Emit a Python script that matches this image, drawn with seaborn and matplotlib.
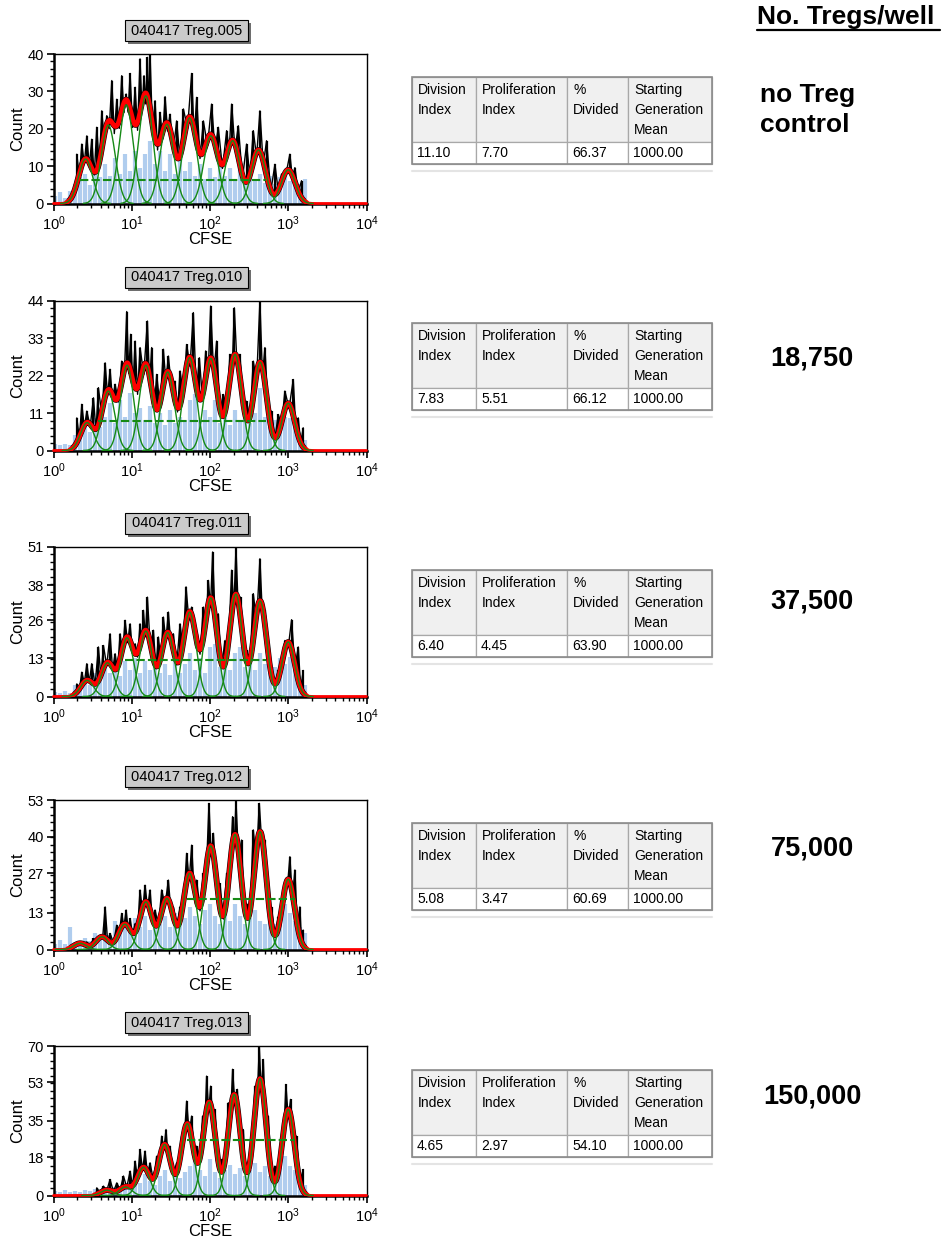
import numpy as np
import matplotlib
matplotlib.use("Agg")
import matplotlib.pyplot as plt
from matplotlib.patches import Rectangle
from matplotlib.lines import Line2D
from matplotlib.ticker import FixedLocator, MultipleLocator, LogLocator, NullFormatter
import seaborn as sns

########################
### chart values  ######
########################
sample_names = ["040417 Treg.005", "040417 Treg.010", "040417 Treg.011",
                "040417 Treg.012", "040417 Treg.013"]
well_labels = ["no Treg\ncontrol", "18,750", "37,500", "75,000", "150,000"]
y_ticks = [[0, 10, 20, 30, 40], [0, 11, 22, 33, 44], [0, 13, 26, 38, 51],
           [0, 13, 27, 40, 53], [0, 18, 35, 53, 70]]

table_header = ["Division\nIndex", "Proliferation\nIndex", "%\nDivided",
                "Starting\nGeneration\nMean"]
division_index = ["11.10", "7.83", "6.40", "5.08", "4.65"]
prolif_index = ["7.70", "5.51", "4.45", "3.47", "2.97"]
pct_divided = ["66.37", "66.12", "63.90", "60.69", "54.10"]
start_mean = ["1000.00", "1000.00", "1000.00", "1000.00", "1000.00"]

# generation peaks of the fitted model: log10(CFSE) and height (counts)
gen_log = [
    [0.41, 0.70, 0.93, 1.18, 1.45, 1.74, 2.01, 2.29, 2.62, 3.00],
    [0.43, 0.70, 0.94, 1.18, 1.46, 1.74, 2.01, 2.32, 2.64, 3.00],
    [0.43, 0.69, 0.94, 1.18, 1.46, 1.74, 2.01, 2.33, 2.64, 3.00],
    [0.34, 0.62, 0.91, 1.18, 1.45, 1.74, 2.01, 2.32, 2.64, 3.00],
    [0.68, 0.92, 1.15, 1.42, 1.71, 1.99, 2.31, 2.64, 3.00],
]
gen_height = [
    [11.9, 21.0, 26.4, 28.8, 21.2, 22.9, 18.1, 16.8, 14.3, 9.0],
    [8.2, 17.5, 25.1, 25.1, 23.1, 27.3, 27.1, 28.3, 26.0, 13.9],
    [5.5, 11.5, 20.0, 22.3, 21.8, 28.8, 33.6, 34.9, 32.6, 18.6],
    [2.2, 4.5, 9.0, 16.9, 18.1, 27.0, 36.7, 40.8, 41.8, 24.9],
    [2.5, 4.0, 13.2, 23.9, 33.6, 43.75, 47.3, 54.7, 40.3],
]
gen_sigma = [0.090, 0.084, 0.082, 0.080, 0.078]

# dashed plateau line: level, start and end (log10 CFSE)
plateau_level = [6.3, 8.8, 12.5, 17.8, 25.9]
plateau_from = [0.34, 0.57, 0.91, 1.70, 1.70]
plateau_to = [2.72, 2.72, 2.72, 3.09, 3.09]

# raw histogram spikes (black): log10(CFSE) and count at spike top
raw_log = [
    [0.298, 0.362, 0.426, 0.489, 0.553, 0.617, 0.681, 0.745, 0.809, 0.872, 0.928, 0.979, 1.043, 1.106,
     1.157, 1.200, 1.234, 1.298, 1.362, 1.426, 1.489, 1.574, 1.660, 1.766, 1.830, 1.915, 2.021, 2.106,
     2.213, 2.277, 2.362, 2.468, 2.553, 2.638, 2.723, 2.830, 2.915, 3.021, 3.085, 3.170],
    [0.298, 0.362, 0.426, 0.511, 0.574, 0.660, 0.723, 0.787, 0.872, 0.936, 0.987, 1.043, 1.106, 1.200,
     1.255, 1.319, 1.404, 1.468, 1.553, 1.617, 1.702, 1.787, 1.864, 1.945, 2.009, 2.085, 2.170, 2.255,
     2.311, 2.383, 2.468, 2.553, 2.638, 2.702, 2.787, 2.872, 2.957, 3.064, 3.128, 3.191],
    [0.298, 0.362, 0.426, 0.489, 0.574, 0.638, 0.723, 0.787, 0.851, 0.915, 0.979, 1.043, 1.106, 1.149,
     1.200, 1.277, 1.340, 1.404, 1.468, 1.532, 1.617, 1.694, 1.766, 1.830, 1.915, 1.979, 2.034, 2.106,
     2.191, 2.277, 2.332, 2.391, 2.468, 2.553, 2.638, 2.702, 2.787, 2.872, 2.957, 3.043, 3.128, 3.191],
    [0.255, 0.319, 0.426, 0.511, 0.596, 0.660, 0.723, 0.809, 0.872, 0.928, 0.979, 1.043, 1.106, 1.170,
     1.234, 1.298, 1.383, 1.468, 1.532, 1.617, 1.702, 1.766, 1.830, 1.915, 1.987, 2.043, 2.128, 2.213,
     2.289, 2.332, 2.404, 2.468, 2.553, 2.630, 2.702, 2.787, 2.872, 2.957, 3.021, 3.085, 3.149, 3.191],
    [0.553, 0.638, 0.723, 0.809, 0.894, 0.979, 1.043, 1.106, 1.170, 1.234, 1.319, 1.383, 1.438, 1.489,
     1.574, 1.638, 1.702, 1.766, 1.830, 1.906, 1.957, 2.009, 2.064, 2.149, 2.234, 2.289, 2.349, 2.426,
     2.489, 2.574, 2.630, 2.681, 2.745, 2.830, 2.915, 2.970, 3.030, 3.106, 3.191],
]
raw_count = [
    [13.2, 15.9, 18.1, 17.2, 20.4, 24.8, 23.5, 32.9, 27.9, 34.2, 29.3, 34.8, 31.1, 38.7,
     34.2, 39.1, 40.0, 27.5, 24.4, 28.6, 23.9, 22.1, 25.3, 34.8, 28.4, 22.1, 26.6, 20.4,
     19.5, 26.6, 20.8, 15.9, 19.5, 24.8, 16.8, 10.5, 7.9, 13.2, 9.6, 6.1],
    [9.6, 13.6, 11.6, 15.5, 18.5, 25.8, 23.9, 19.5, 26.3, 40.9, 34.2, 32.2, 30.3, 38.1,
     30.3, 22.4, 29.8, 27.8, 20.4, 23.4, 31.2, 40.6, 27.3, 29.3, 42.5, 32.2, 16.5, 28.3,
     42.0, 28.3, 14.5, 26.3, 44.0, 30.3, 11.6, 10.6, 17.5, 20.9, 9.6, 6.7],
    [4.3, 8.3, 11.2, 11.2, 16.9, 17.4, 21.4, 14.6, 21.4, 26.0, 24.8, 18.0, 24.8, 29.4,
     33.9, 22.6, 20.3, 27.1, 28.8, 21.4, 24.8, 37.4, 30.5, 21.4, 30.5, 39.6, 49.3, 28.2,
     19.1, 43.1, 50.8, 33.9, 15.7, 35.1, 47.0, 29.4, 10.0, 8.9, 19.1, 26.2, 16.9, 8.9],
    [1.5, 2.1, 2.7, 3.9, 4.5, 15.1, 5.7, 8.6, 12.8, 14.0, 11.0, 9.2, 21.1, 22.8,
     21.1, 14.0, 21.1, 24.6, 15.1, 15.1, 34.1, 37.0, 24.6, 27.0, 51.8, 41.2, 23.4, 27.0,
     47.1, 52.8, 38.8, 16.3, 42.4, 51.8, 38.8, 15.1, 11.6, 23.4, 32.9, 28.2, 15.1, 6.9],
    [3.6, 4.4, 7.5, 5.9, 9.1, 11.4, 16.1, 21.6, 20.8, 15.3, 18.4, 27.8, 30.9, 23.1,
     15.3, 27.8, 44.2, 37.2, 23.1, 37.2, 55.9, 51.2, 40.3, 16.9, 43.4, 59.1, 49.7, 30.9,
     15.3, 51.2, 70.0, 63.7, 37.2, 13.75, 23.1, 52.0, 45.0, 27.8, 12.2],
]

# light blue histogram: shared channel positions (log10) and counts per sample
blue_log = [0.021, 0.085, 0.149, 0.213, 0.277, 0.340, 0.404, 0.468, 0.532, 0.596, 0.660, 0.723,
            0.787, 0.851, 0.915, 0.979, 1.043, 1.106, 1.170, 1.234, 1.298, 1.362, 1.426, 1.489,
            1.553, 1.617, 1.681, 1.745, 1.809, 1.872, 1.936, 2.000, 2.064, 2.128, 2.191, 2.255,
            2.319, 2.383, 2.447, 2.511, 2.574, 2.638, 2.702, 2.766, 2.830, 2.894, 2.957, 3.021,
            3.085, 3.149, 3.213]
blue_count = [
    [2, 3, 1.6, 3.4, 5.2, 7, 8, 5, 9.6, 7, 10.5, 7.4, 12.3, 7.9, 13.2, 8.7, 14.1, 9.6, 13.2, 16.8,
     10.5, 14.1, 8.7, 13.2, 7.9, 12.3, 8.7, 11, 7.4, 10.5, 6.5, 9.6, 7, 11.4, 7.4, 9.6, 6.5, 10.5,
     7, 8.7, 6.1, 7.9, 5.6, 7.4, 5.2, 7, 7.4, 6.1, 7, 5.2, 6.5],
    [1.8, 1.5, 2, 1.5, 4.7, 6, 8, 5.5, 9.6, 7, 10, 14, 8, 15, 10, 17, 11, 12.5, 9, 13, 8, 11, 7.5,
     12, 8, 10, 9, 15, 16.5, 9, 12, 10, 15, 8, 11, 7.5, 12, 9, 13, 8, 11, 18.5, 10, 7, 9, 7.5, 10,
     9.6, 8, 4.5, 3],
    [1.5, 1.2, 1.8, 1.2, 3.8, 2.5, 5, 4, 8, 6, 11, 8, 11, 7, 12, 9, 13, 8, 12, 9, 13, 8, 11, 7.5,
     12, 8, 11, 15, 9, 13, 8, 17, 18, 10, 13, 9, 15, 17, 10, 13, 9, 15, 11, 8, 10, 13, 11, 13.4,
     10, 6, 4],
    [2, 3.5, 2, 8, 2.5, 3, 4, 3, 6, 4, 8, 5, 10, 6, 9, 7, 11, 8, 12, 7, 10, 9, 12, 8, 13, 9, 11,
     15, 12, 9, 14, 16, 12, 9, 13, 10, 16, 12, 9, 11, 14, 10, 9, 11, 9, 12, 16, 13, 10, 8, 6],
    [2, 1.5, 2.5, 1.5, 2, 1.5, 2.5, 2, 3, 2, 3, 2.5, 4, 3, 5, 4, 9, 6, 10, 7, 5, 9, 12, 7, 10, 8,
     11, 14, 17.7, 12, 9, 17, 11, 8, 12, 14.5, 10, 13, 9, 12, 15, 11, 14, 9, 12, 13, 18.4, 14, 12,
     10, 5],
]

########################
### layout (pixels) ####
########################
W, H = 943, 1244
axes_top = [54, 301, 547, 800, 1046]
ax_h = 149.5
ax_left, ax_right = 53.5, 366.5
table_top = [77, 323, 570, 823, 1070]
col_edges = [412, 476, 567, 628, 712]
head_h, row_h = 65, 22
label_y = [95, 358, 602, 849, 1096]

GREEN = "#168a16"
BLUE = "#b0cdee"

sns.set_theme(style="ticks")
plt.rcParams["font.family"] = ["Liberation Sans", "DejaVu Sans"]
plt.rcParams["mathtext.default"] = "regular"
plt.rcParams.update({"text.color": "black", "axes.labelcolor": "black",
                     "xtick.color": "black", "ytick.color": "black"})


def fx(x):
    return x / W


def fy(y):
    return 1 - y / H


def model(logx, pos, hts, sig):
    logx = np.asarray(logx, dtype=float)[:, None]
    return (np.asarray(hts) * np.exp(-0.5 * ((logx - np.asarray(pos)) / sig) ** 2)).sum(axis=1)


fig = plt.figure(figsize=(W / 100, H / 100), dpi=100)
fig.patch.set_facecolor("white")
grid = np.linspace(0, 4, 1600)

for i in range(5):
    top = axes_top[i]
    ax = fig.add_axes([fx(ax_left), fy(top + ax_h), (ax_right - ax_left) / W, ax_h / H])
    ax.set_xscale("log")
    ax.set_facecolor("white")
    pos, hts, sig = gen_log[i], gen_height[i], gen_sigma[i]

    # light blue histogram
    ax.vlines(10 ** np.array(blue_log), 0, blue_count[i], colors=BLUE, lw=3.0, zorder=1)

    # raw data trace (black)
    sx = np.array(raw_log[i])
    sy = np.array(raw_count[i])
    mids = (sx[:-1] + sx[1:]) / 2
    zx = np.empty(len(sx) + len(mids))
    zy = np.empty_like(zx)
    zx[0::2], zx[1::2] = sx, mids
    zy[0::2], zy[1::2] = sy, model(mids, pos, hts, sig) * 0.9
    ax.plot(10 ** zx, zy, color="black", lw=1.0, zorder=2)
    ax.vlines(10 ** sx, model(sx, pos, hts, sig), sy, colors="black", lw=1.6, zorder=2)

    # fitted model: thick red where there are cells, thin red along the baseline
    fit = model(grid, pos, hts, sig)
    halo = np.where(fit > 0.8, fit, np.nan)
    body = np.where(fit > 0.3, fit, np.nan)
    ax.plot(10 ** grid, halo, color="black", lw=4.2, zorder=3)
    ax.plot(10 ** grid, fit, color="#ff0000", lw=2.0, zorder=4, clip_on=False)
    sns.lineplot(x=10 ** grid, y=body, color="#ff0000", lw=3.4, ax=ax, zorder=4,
                 sort=False, estimator=None)

    # generation components
    for p, h in zip(pos, hts):
        seg = grid[(grid > p - 0.32) & (grid < p + 0.32)]
        sns.lineplot(x=10 ** seg, y=model(seg, [p], [h], sig), color=GREEN, lw=1.0,
                     ax=ax, zorder=5, sort=False, estimator=None)
    ax.hlines(plateau_level[i], 10 ** plateau_from[i], 10 ** plateau_to[i], colors=GREEN,
              linestyles=(0, (4, 1.5)), lw=1.5, zorder=5)

    # axes styling
    ax.set_xlim(1, 1e4)
    ax.set_ylim(0, y_ticks[i][-1])
    ax.yaxis.set_major_locator(FixedLocator(y_ticks[i]))
    ax.yaxis.set_minor_locator(MultipleLocator(y_ticks[i][-1] / 20))
    ax.xaxis.set_major_locator(LogLocator(base=10, numticks=10))
    ax.xaxis.set_minor_locator(LogLocator(base=10, subs=np.arange(2, 10), numticks=20))
    ax.xaxis.set_minor_formatter(NullFormatter())
    ax.tick_params(axis="both", which="major", direction="out", length=5, width=1.2,
                   labelsize=10.5, pad=2)
    ax.tick_params(axis="both", which="minor", direction="out", length=3, width=1.0)
    ax.tick_params(axis="x", which="major", pad=3)
    for s in ["left", "bottom"]:
        ax.spines[s].set_linewidth(1.8)
        ax.spines[s].set_color("black")
    for s in ["top", "right"]:
        ax.spines[s].set_visible(True)
        ax.spines[s].set_linewidth(1.0)
        ax.spines[s].set_color("black")
    ax.set_xlabel("CFSE", fontsize=12)
    ax.set_ylabel("Count", fontsize=12)
    ax.xaxis.set_label_coords(0.5, -0.19)
    ax.yaxis.set_label_coords(-0.09, 0.5)

    # sample name box
    bx0, bx1 = 125, 248
    by0 = top - 34
    fig.add_artist(Rectangle((fx(bx0 + 3), fy(by0 + 24)), (bx1 - bx0) / W, 21 / H,
                             transform=fig.transFigure, facecolor="#6e6e6e", edgecolor="none"))
    fig.add_artist(Rectangle((fx(bx0), fy(by0 + 21)), (bx1 - bx0) / W, 21 / H,
                             transform=fig.transFigure, facecolor="#cbcbcb",
                             edgecolor="black", lw=0.8))
    fig.text(fx((bx0 + bx1) / 2), fy(by0 + 10.5), sample_names[i], ha="center", va="center",
             fontsize=10.5)

    # statistics table
    t0 = table_top[i]
    values = [division_index[i], prolif_index[i], pct_divided[i], start_mean[i]]
    for c in range(4):
        x0, x1 = col_edges[c], col_edges[c + 1]
        fig.add_artist(Rectangle((fx(x0), fy(t0 + head_h)), (x1 - x0) / W, head_h / H,
                                 transform=fig.transFigure, facecolor="#f0f0f0",
                                 edgecolor="#a8a8a8", lw=0.9))
        fig.add_artist(Rectangle((fx(x0), fy(t0 + head_h + row_h)), (x1 - x0) / W, row_h / H,
                                 transform=fig.transFigure, facecolor="white",
                                 edgecolor="#a8a8a8", lw=0.9))
        fig.text(fx(x0 + 6), fy(t0 + 6), table_header[c], ha="left", va="top",
                 fontsize=10, linespacing=1.55)
        fig.text(fx(x0 + 5), fy(t0 + head_h + row_h / 2), values[c], ha="left",
                 va="center", fontsize=10)
    fig.add_artist(Rectangle((fx(col_edges[0]), fy(t0 + head_h + row_h)),
                             (col_edges[-1] - col_edges[0]) / W, (head_h + row_h) / H,
                             transform=fig.transFigure, facecolor="none",
                             edgecolor="#8c8c8c", lw=1.2))
    fig.add_artist(Line2D([fx(col_edges[0]), fx(col_edges[-1])],
                          [fy(t0 + head_h + row_h + 7)] * 2, transform=fig.transFigure,
                          color="#e4e4e4", lw=1.5))

    # treg count label
    if i == 0:
        for k, line in enumerate(well_labels[i].split("\n")):
            fig.text(fx(760), fy(label_y[i] + 30 * k), line, ha="left", va="center",
                     fontsize=19, fontweight="bold")
    else:
        fig.text(fx(812), fy(label_y[i]), well_labels[i], ha="center", va="center",
                 fontsize=19.5, fontweight="bold")

fig.text(fx(757), fy(17), "No. Tregs/well", ha="left", va="center", fontsize=19,
         fontweight="bold")
fig.add_artist(Line2D([fx(757), fx(940)], [fy(30), fy(30)], transform=fig.transFigure,
                      color="black", lw=1.6))

plt.savefig("out.png", dpi=100)
